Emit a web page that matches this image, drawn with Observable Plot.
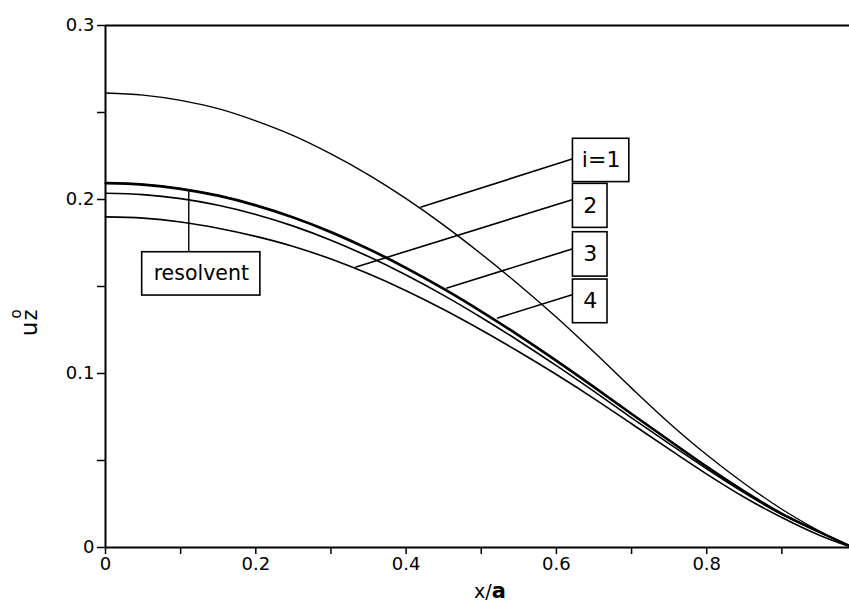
<!DOCTYPE html>
<html><head><meta charset="utf-8">
<script src="https://cdn.jsdelivr.net/npm/d3@7"></script>
<script src="https://cdn.jsdelivr.net/npm/@observablehq/plot@0.6"></script>
<style>body{margin:0;background:#fff}</style>
</head><body><div id="chart"></div>
<script>
const xs = [0,0.05,0.1,0.15,0.2,0.25,0.3,0.35,0.4,0.45,0.5,0.55,0.6,0.65,0.7,0.75,0.8,0.85,0.9,0.95,0.99];
const iter1 = [0.2612,0.2600,0.2570,0.2522,0.2452,0.2367,0.2262,0.2142,0.2005,0.1853,0.1687,0.1510,0.1323,0.1123,0.0916,0.0716,0.0533,0.0368,0.0220,0.0094,0.0006];
const iter2 = [0.1900,0.1893,0.1871,0.1835,0.1788,0.1730,0.1658,0.1573,0.1476,0.1368,0.1250,0.1125,0.0994,0.0856,0.0711,0.0565,0.0422,0.0289,0.0172,0.0070,0.0005];
const iter3 = [0.2097,0.2089,0.2065,0.2025,0.1970,0.1900,0.1816,0.1719,0.1610,0.1490,0.1360,0.1222,0.1077,0.0926,0.0770,0.0618,0.0467,0.0325,0.0196,0.0090,0.0010];
const iter4 = [0.2036,0.2028,0.2005,0.1967,0.1914,0.1847,0.1766,0.1672,0.1566,0.1449,0.1322,0.1187,0.1045,0.0897,0.0745,0.0597,0.0452,0.0314,0.0189,0.0087,0.0010];
const resolvent = [0.2092,0.2084,0.2060,0.2020,0.1965,0.1895,0.1811,0.1714,0.1605,0.1485,0.1355,0.1217,0.1072,0.0921,0.0766,0.0614,0.0464,0.0322,0.0194,0.0089,0.0010];

const yTicks = [0,0.05,0.1,0.15,0.2,0.25,0.3];
const yLabels = ["0","","0.1","","0.2","","0.3"];
const xTicks = [0,0.1,0.2,0.3,0.4,0.5,0.6,0.7,0.8,0.9];
const xLabels = ["0","","0.2","","0.4","","0.6","","0.8",""];

// callout labels (data units)
const labelNames = ["i=1","2","3","4"];
const boxX1 = [0.622,0.622,0.622,0.622];
const boxX2 = [0.697,0.668,0.668,0.668];
const boxYTop = [0.2349,0.2090,0.1812,0.1540];
const boxYBottom = [0.2100,0.1837,0.1557,0.1289];
const leadFromY = [0.2234,0.2000,0.1717,0.1454];
const leadToX = [0.419,0.3324,0.4535,0.5209];
const leadToY = [0.1955,0.1611,0.1490,0.1318];
const resName = "resolvent";
const resBox = {x1:0.0488, x2:0.2061, y1:0.1448, y2:0.1697};
const resLead = {x:0.1108, y1:0.1697, y2:0.2057};

const FONT = "'DejaVu Sans', 'Liberation Sans', Arial, sans-serif";
const mk = arr => xs.map((x,i)=>({x, y:arr[i]}));
const boxes = labelNames.map((n,i)=>({n, x1:boxX1[i], x2:boxX2[i], y1:boxYBottom[i], y2:boxYTop[i], fy:leadFromY[i], tx:leadToX[i], ty:leadToY[i]}));

const plot = Plot.plot({
  width: 849, height: 604,
  marginLeft: 105, marginRight: 0, marginTop: 25, marginBottom: 57,
  style: {fontFamily: FONT, fontSize: "18px", background: "#fff", color: "#000"},
  x: {domain: [0, 0.99]},
  y: {domain: [0, 0.3]},
  marks: [
    Plot.axisX({ticks: xTicks, tickSize: 7, tickPadding: 3, strokeWidth: 1.5, fontSize: 18, tickFormat: d => xLabels[xTicks.indexOf(d)] ?? "", label: null}),
    Plot.axisY({ticks: yTicks, tickSize: 8, tickPadding: 3, strokeWidth: 1.5, fontSize: 18, tickFormat: d => yLabels[yTicks.indexOf(d)] ?? "", label: null}),
    Plot.ruleY([0.3], {strokeWidth: 2}),
    Plot.ruleY([0], {strokeWidth: 2}),
    Plot.ruleX([0], {strokeWidth: 2}),
    Plot.line(mk(iter1), {x:"x", y:"y", stroke:"#000", strokeWidth:1.4, curve:"catmull-rom"}),
    Plot.line(mk(iter2), {x:"x", y:"y", stroke:"#000", strokeWidth:1.6, curve:"catmull-rom"}),
    Plot.line(mk(iter4), {x:"x", y:"y", stroke:"#000", strokeWidth:1.6, curve:"catmull-rom"}),
    Plot.line(mk(iter3), {x:"x", y:"y", stroke:"#000", strokeWidth:1.6, curve:"catmull-rom"}),
    Plot.line(mk(resolvent), {x:"x", y:"y", stroke:"#000", strokeWidth:2.2, curve:"catmull-rom"}),
    Plot.link(boxes, {x1:"x1", y1:"fy", x2:"tx", y2:"ty", stroke:"#000", strokeWidth:1.6}),
    Plot.rect(boxes, {x1:"x1", x2:"x2", y1:"y1", y2:"y2", fill:"#fff", stroke:"#000", strokeWidth:1.6}),
    Plot.text(boxes, {x: d => (d.x1+d.x2)/2, y: d => (d.y1+d.y2)/2, text:"n", fontSize: 22, fill:"#000"}),
    Plot.ruleX([resLead], {x:"x", y1:"y1", y2:"y2", stroke:"#000", strokeWidth:1.4}),
    Plot.rect([resBox], {x1:"x1", x2:"x2", y1:"y1", y2:"y2", fill:"#fff", stroke:"#000", strokeWidth:1.6}),
    Plot.text([resBox], {x: d => (d.x1+d.x2)/2, y: d => (d.y1+d.y2)/2, text: () => resName, fontSize: 20.5, fill:"#000"})
  ]
});
document.getElementById("chart").appendChild(plot);

const svg = d3.select(plot);
// y-axis label u_z^o (rotated)
const g = svg.append("g").attr("transform","translate(37,329) rotate(-90)")
  .attr("font-family", FONT).attr("fill","#000");
g.append("text").attr("x",0).attr("y",0).attr("font-size",23).text("u");
g.append("text").attr("x",14).attr("y",0).attr("font-size",21).text("z");
g.append("text").attr("x",15).attr("y",-16).attr("font-size",15).text("o");
// x-axis label x/a
const xl = svg.append("text").attr("x",490).attr("y",598).attr("text-anchor","middle")
  .attr("font-family", FONT).attr("font-size",19).attr("fill","#000");
xl.append("tspan").text("x/");
xl.append("tspan").attr("font-weight","bold").attr("font-size",21).text("a");
</script></body></html>
